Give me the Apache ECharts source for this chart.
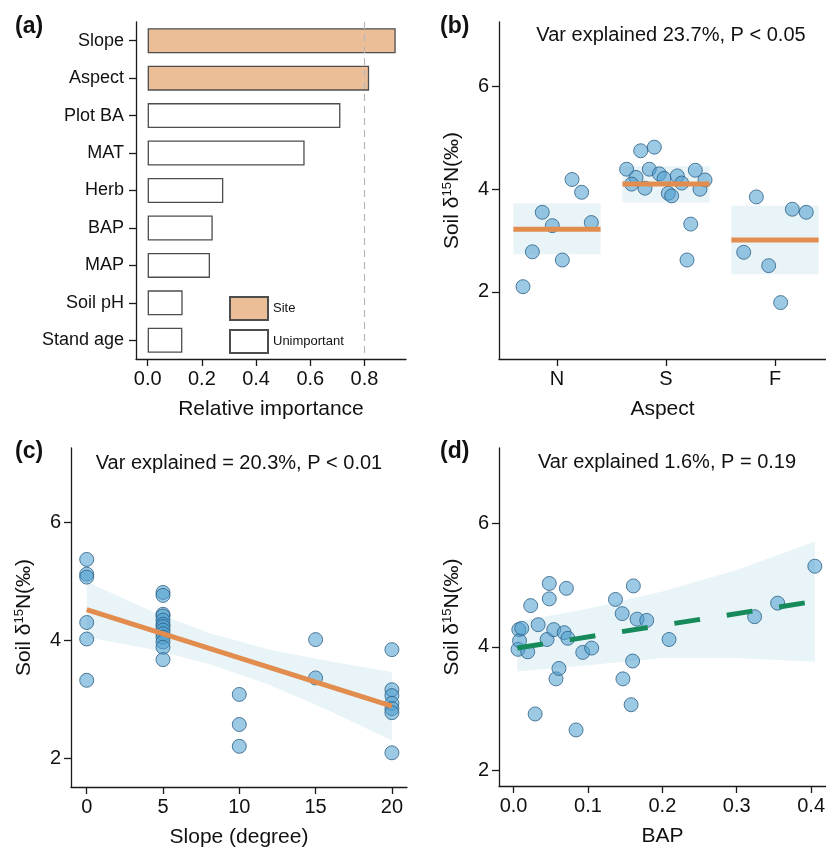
<!DOCTYPE html>
<html><head><meta charset="utf-8">
<script src="https://cdn.jsdelivr.net/npm/echarts@6/dist/echarts.min.js"></script>
<style>html,body{margin:0;padding:0;background:#fff}#c{width:826px;height:851px}</style>
</head><body><div id="c"></div>
<script>
// ---------- Panel (a): relative importance ----------
const importanceCats = ['Slope','Aspect','Plot BA','MAT','Herb','BAP','MAP','Soil pH','Stand age'];
const importanceVals = [0.915,0.817,0.711,0.579,0.279,0.240,0.230,0.129,0.128];
const importanceGroup = ['Site','Site','Unimportant','Unimportant','Unimportant','Unimportant','Unimportant','Unimportant','Unimportant'];
const importanceTicks = [0,0.2,0.4,0.6,0.8];
const importanceThreshold = 0.8;

// ---------- Panel (b): aspect ----------
const aspectLevels = ['N','S','F'];
const aspectPos = [1,2,3];
const aspectMean = [3.22,4.10,3.01];
const aspectLo = [2.73,3.74,2.34];
const aspectHi = [3.72,4.45,3.68];
const aspectPtsN = [[0.688,2.10],[0.774,2.78],[0.865,3.55],[0.957,3.29],[1.049,2.62],[1.138,4.19],[1.226,3.94],[1.315,3.35]];
const aspectPtsS = [[1.768,4.75],[1.893,4.82],[1.639,4.39],[1.725,4.23],[1.685,4.10],[1.807,4.02],[1.847,4.39],[1.939,4.30],[1.982,4.21],[2.104,4.26],[2.144,4.12],[2.021,3.92],[2.052,3.87],[2.269,4.37],[2.358,4.18],[2.312,4.00],[2.227,3.32],[2.193,2.62]];
const aspectPtsF = [[2.713,2.77],[2.829,3.85],[2.942,2.51],[3.052,1.79],[3.159,3.61],[3.287,3.55]];
const soilTicks = [2,4,6];

// ---------- Panel (c): slope ----------
const slopeX = [0,0,0,0,0,0, 5,5,5,5,5,5,5,5,5,5,5,5,5, 10,10,10, 15,15, 20,20,20,20,20,20,20];
const slopeY = [5.37,5.12,5.07,4.30,4.02,3.32, 4.81,4.76,4.44,4.41,4.34,4.27,4.23,4.17,4.11,4.05,3.97,3.88,3.67, 3.08,2.57,2.20, 4.01,3.36, 3.84,3.16,3.06,2.93,2.84,2.77,2.09];
const slopeFitX = [0,20];
const slopeFitY = [4.52,2.88];
const slopeBandX = [0,4,8,12,16,20];
const slopeBandLo = [4.05,3.86,3.60,3.24,2.79,2.30];
const slopeBandHi = [4.99,4.52,4.12,3.84,3.64,3.46];
const slopeTicks = [0,5,10,15,20];

// ---------- Panel (d): BAP ----------
const bapX = [0.006,0.007,0.008,0.011,0.019,0.023,0.029,0.033,0.045,0.048,0.048,0.054,0.057,0.061,0.068,0.071,0.073,0.084,0.093,0.105,0.137,0.146,0.147,0.158,0.160,0.161,0.166,0.179,0.209,0.324,0.355,0.405];
const bapY = [3.96,4.28,4.10,4.30,3.92,4.67,2.91,4.36,4.12,4.78,5.03,4.28,3.48,3.65,4.23,4.95,4.14,2.65,3.91,3.98,4.77,4.54,3.48,3.06,3.77,4.99,4.45,4.43,4.12,4.49,4.71,5.31];
const bapFitX = [0.005,0.405];
const bapFitY = [3.98,4.74];
const bapBandX = [0.005,0.1,0.2,0.3,0.405];
const bapBandLo = [3.60,3.70,3.82,3.82,3.76];
const bapBandHi = [4.41,4.62,4.90,5.25,5.71];
const bapTicks = [0,0.1,0.2,0.3,0.4];

// ---------- styles ----------
const FONT = '"Liberation Sans", Arial, sans-serif';
const AX = '#1a1a1a';
const ORANGE = '#E28C4E';
const GREEN = '#168a5a';
const BAND = '#E8F4F7';
const PT = {color:'rgba(79,159,206,0.7)', borderColor:'#2c5f86', borderWidth:1};

function valueAxis(gridIndex, min, max, ticks, fmt, name, nameGap, rotate) {
  return {
    type:'value', gridIndex, min, max,
    axisLine:{show:true, onZero:false, lineStyle:{color:AX, width:1.3}},
    axisTick:{show:true, length:7, customValues:ticks, lineStyle:{color:AX, width:1.3}},
    axisLabel:{customValues:ticks, formatter:fmt, fontSize:20, color:'#111', fontFamily:FONT, margin:10},
    splitLine:{show:false},
    name:name, nameLocation:'middle', nameGap:nameGap, nameRotate:rotate,
    nameTextStyle:{fontSize:21, color:'#111', fontFamily:FONT,
      rich:{t:{fontSize:21, fontFamily:FONT, color:'#111'}, s:{fontSize:13, fontFamily:FONT, color:'#111', verticalAlign:'top', lineHeight:22}}}
  };
}
const soilName = '{t|Soil δ}{s|15}{t|N(‰)}';
const f1 = v => (+v).toFixed(1);
const f0 = v => String(+v);

function bandRenderer(bx, lo, hi) {
  return function(params, api) {
    if (params.dataIndex !== 0) return null;
    const pts = [];
    for (let i = 0; i < bx.length; i++) pts.push(api.coord([bx[i], hi[i]]));
    for (let i = bx.length - 1; i >= 0; i--) pts.push(api.coord([bx[i], lo[i]]));
    return {type:'polygon', shape:{points:pts}, style:{fill:BAND}};
  };
}

const chart = echarts.init(document.getElementById('c'), null, {renderer:'canvas'});

const option = {
  backgroundColor:'#fff',
  animation:false,
  textStyle:{fontFamily:FONT},
  grid:[
    {left:136, top:22, width:270, height:337, outerBoundsMode:'none', containLabel:false},
    {left:499, top:22, width:327, height:337, outerBoundsMode:'none', containLabel:false},
    {left:71, top:448, width:336, height:339, outerBoundsMode:'none', containLabel:false},
    {left:499, top:448, width:327, height:338, outerBoundsMode:'none', containLabel:false}
  ],
  legend:{
    data:['Site','Unimportant'], orient:'vertical', left:229, top:296, itemWidth:38, itemHeight:23, itemGap:8,
    icon:'rect', selectedMode:false, padding:0,
    textStyle:{fontSize:13, color:'#111', fontFamily:FONT}
  },
  xAxis:[
    valueAxis(0, -0.043, 0.953, importanceTicks, f1, 'Relative importance', 40, 0),
    valueAxis(1, 0.468, 3.468, aspectPos, v => aspectLevels[aspectPos.indexOf(+v)], 'Aspect', 40, 0),
    valueAxis(2, -1.03, 20.99, slopeTicks, f0, 'Slope (degree)', 40, 0),
    valueAxis(3, -0.0196, 0.42, bapTicks, f1, 'BAP', 40, 0)
  ],
  yAxis:[
    {type:'category', gridIndex:0, data:importanceCats, inverse:true,
     axisLine:{show:true, onZero:false, lineStyle:{color:AX, width:1.3}},
     axisTick:{show:true, alignWithLabel:true, length:7, lineStyle:{color:AX, width:1.3}},
     axisLabel:{fontSize:18, color:'#111', fontFamily:FONT, margin:12, interval:0},
     splitLine:{show:false}},
    valueAxis(1, 0.69, 7.26, soilTicks, f0, soilName, 36, 90),
    valueAxis(2, 1.51, 7.26, soilTicks, f0, soilName, 36, 90),
    valueAxis(3, 1.74, 7.23, soilTicks, f0, soilName, 36, 90)
  ],
  graphic:[
    {type:'text', x:15, y:27, style:{text:'(a)', fontSize:23, fontWeight:'bold', fontFamily:FONT, fill:'#111', verticalAlign:'middle'}},
    {type:'text', x:440, y:27, style:{text:'(b)', fontSize:23, fontWeight:'bold', fontFamily:FONT, fill:'#111', verticalAlign:'middle'}},
    {type:'text', x:15, y:452, style:{text:'(c)', fontSize:23, fontWeight:'bold', fontFamily:FONT, fill:'#111', verticalAlign:'middle'}},
    {type:'text', x:440, y:452, style:{text:'(d)', fontSize:23, fontWeight:'bold', fontFamily:FONT, fill:'#111', verticalAlign:'middle'}},
    {type:'text', x:671, y:35, style:{text:'Var explained 23.7%, P < 0.05', fontSize:20, fontFamily:FONT, fill:'#111', align:'center', verticalAlign:'middle'}},
    {type:'text', x:239, y:463, style:{text:'Var explained = 20.3%, P < 0.01', fontSize:20, fontFamily:FONT, fill:'#111', align:'center', verticalAlign:'middle'}},
    {type:'text', x:667, y:462, style:{text:'Var explained 1.6%, P = 0.19', fontSize:20, fontFamily:FONT, fill:'#111', align:'center', verticalAlign:'middle'}}
  ],
  series:[
    // (a)
    {name:'Site', type:'bar', xAxisIndex:0, yAxisIndex:0, barWidth:25, barGap:'-100%',
     data:importanceVals.map((v,i) => importanceGroup[i] === 'Site' ? v : '-'),
     itemStyle:{color:'#ECBE98', borderColor:'#4d4d4d', borderWidth:1.3},
     markLine:{silent:true, symbol:['none','none'], label:{show:false},
       lineStyle:{color:'#b8b8b8', type:[7,5], width:1.2}, data:[{xAxis:importanceThreshold}]}},
    {name:'Unimportant', type:'bar', xAxisIndex:0, yAxisIndex:0, barWidth:25, barGap:'-100%',
     data:importanceVals.map((v,i) => importanceGroup[i] === 'Unimportant' ? v : '-'),
     itemStyle:{color:'#ffffff', borderColor:'#4d4d4d', borderWidth:1.3}},
    // (b)
    {type:'custom', xAxisIndex:1, yAxisIndex:1, silent:true, z:1,
     data:aspectPos.map((p,i) => [p, aspectLo[i], aspectHi[i]]),
     renderItem:(params, api) => {
       const a = api.coord([api.value(0) - 0.4, api.value(2)]);
       const b = api.coord([api.value(0) + 0.4, api.value(1)]);
       return {type:'rect', shape:{x:a[0], y:a[1], width:b[0]-a[0], height:b[1]-a[1]}, style:{fill:BAND}};
     }},
    {type:'scatter', xAxisIndex:1, yAxisIndex:1, symbolSize:14, z:3, itemStyle:PT,
     data:aspectPtsN.concat(aspectPtsS, aspectPtsF)},
    {type:'custom', xAxisIndex:1, yAxisIndex:1, silent:true, z:5,
     data:aspectPos.map((p,i) => [p, aspectMean[i]]),
     renderItem:(params, api) => {
       const a = api.coord([api.value(0) - 0.4, api.value(1)]);
       const b = api.coord([api.value(0) + 0.4, api.value(1)]);
       return {type:'line', shape:{x1:a[0], y1:a[1], x2:b[0], y2:b[1]}, style:{stroke:ORANGE, lineWidth:5}};
     }},
    // (c)
    {type:'custom', xAxisIndex:2, yAxisIndex:2, silent:true, z:1,
     data:slopeBandX.map((x,i) => [x, slopeBandLo[i], slopeBandHi[i]]),
     renderItem:bandRenderer(slopeBandX, slopeBandLo, slopeBandHi)},
    {type:'scatter', xAxisIndex:2, yAxisIndex:2, symbolSize:14, z:3, itemStyle:PT,
     data:slopeX.map((x,i) => [x, slopeY[i]])},
    {type:'line', xAxisIndex:2, yAxisIndex:2, symbol:'none', z:5, silent:true,
     lineStyle:{color:ORANGE, width:5}, data:slopeFitX.map((x,i) => [x, slopeFitY[i]])},
    // (d)
    {type:'custom', xAxisIndex:3, yAxisIndex:3, silent:true, z:1,
     data:bapBandX.map((x,i) => [x, bapBandLo[i], bapBandHi[i]]),
     renderItem:bandRenderer(bapBandX, bapBandLo, bapBandHi)},
    {type:'scatter', xAxisIndex:3, yAxisIndex:3, symbolSize:14, z:3, itemStyle:PT,
     data:bapX.map((x,i) => [x, bapY[i]])},
    {type:'line', xAxisIndex:3, yAxisIndex:3, symbol:'none', z:5, silent:true,
     lineStyle:{color:GREEN, width:5, type:[26,27]}, data:bapFitX.map((x,i) => [x, bapFitY[i]])}
  ]
};
chart.setOption(option);
</script></body></html>
